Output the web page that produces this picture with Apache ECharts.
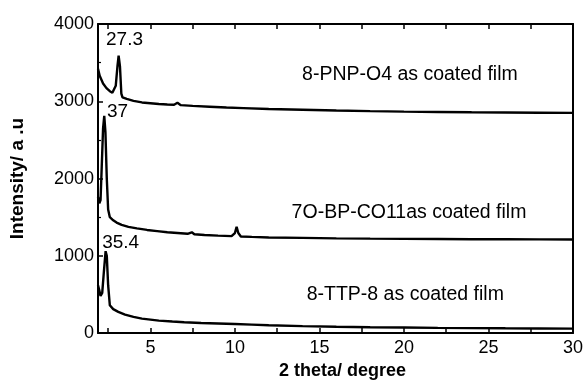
<!DOCTYPE html>
<html>
<head>
<meta charset="utf-8">
<script src="https://cdn.jsdelivr.net/npm/echarts@6/dist/echarts.min.js"></script>
<style>
  html, body { margin: 0; padding: 0; background: #fff; }
  #chart { width: 586px; height: 385px; }
</style>
</head>
<body>
<div id="chart"></div>
<script>
// 2 theta (degree), intensity (a.u.)
const pnpO4 = [
  [1.9, 3420], [2.0, 3330], [2.2, 3230], [2.4, 3170], [2.6, 3130], [2.75, 3110],
  [2.85, 3130], [2.95, 3200], [3.05, 3450], [3.12, 3590], [3.2, 3450], [3.28, 3100],
  [3.35, 3050], [3.6, 3030], [4.0, 3005], [4.5, 2985], [5.0, 2975], [5.5, 2965],
  [6.0, 2958], [6.4, 2955], [6.6, 2980], [6.8, 2950], [7.5, 2940], [8.5, 2930],
  [9.5, 2920], [10.5, 2912], [12, 2900], [14, 2890], [16, 2880], [18, 2872],
  [20, 2866], [22, 2862], [24, 2858], [26, 2855], [28, 2852], [30, 2850]
];
const bpCO11 = [
  [1.9, 1760], [1.98, 1680], [2.05, 1720], [2.12, 2150], [2.2, 2650], [2.27, 2810],
  [2.34, 2600], [2.42, 2000], [2.5, 1600], [2.6, 1500], [2.8, 1460], [3.0, 1430],
  [3.3, 1400], [3.7, 1375], [4.2, 1355], [4.8, 1335], [5.4, 1320], [6.0, 1305],
  [6.6, 1295], [7.2, 1285], [7.45, 1305], [7.6, 1280], [8.2, 1270], [9.0, 1262],
  [9.8, 1255], [10.0, 1295], [10.1, 1375], [10.2, 1295], [10.35, 1250], [11, 1245],
  [12, 1238], [14, 1232], [16, 1226], [18, 1222], [20, 1219], [22, 1217],
  [24, 1215], [26, 1214], [28, 1213], [30, 1212]
];
const ttp8 = [
  [1.9, 620], [1.97, 560], [2.05, 480], [2.15, 520], [2.25, 800], [2.35, 1060],
  [2.42, 1000], [2.5, 620], [2.6, 360], [2.8, 310], [3.1, 275], [3.5, 240],
  [4.0, 210], [4.5, 188], [5.0, 175], [5.5, 162], [6.3, 150], [7.0, 140],
  [8.0, 130], [9.0, 124], [10, 118], [11, 110], [12, 102], [14, 90],
  [16, 82], [18, 76], [20, 72], [22, 68], [24, 65], [26, 62], [28, 60], [30, 58]
];

const xLabels = [5, 10, 15, 20, 25, 30];
const xTicks = [2.5, 5, 7.5, 10, 12.5, 15, 17.5, 20, 22.5, 25, 27.5, 30];

// [x, y, text]
const peakNotes = [[3.47, 3800, "27.3"], [3.06, 2870, "37"], [3.24, 1175, "35.4"]];
const filmNotes = [
  [20.35, 3345, "8-PNP-O4 as coated film"],
  [20.3, 1560, "7O-BP-CO11as coated film"],
  [20.08, 495, "8-TTP-8 as coated film"]
];

const font = "Liberation Sans, Arial, sans-serif";
const chart = echarts.init(document.getElementById("chart"), null, { renderer: "canvas" });

const lineSeries = (data) => ({
  type: "line",
  data: data,
  symbol: "none",
  smooth: false,
  silent: true,
  lineStyle: { color: "#000", width: 2.4 }
});

const textSeries = (notes, size) => ({
  type: "scatter",
  data: notes.map((n) => ({ value: [n[0], n[1]], name: n[2] })),
  symbolSize: 0,
  silent: true,
  itemStyle: { opacity: 1, color: "#000" },
  label: {
    show: true,
    position: "inside",
    formatter: (p) => p.name,
    color: "#000",
    opacity: 1,
    textBorderWidth: 0,
    fontFamily: font,
    fontSize: size
  }
});

chart.setOption({
  backgroundColor: "#fff",
  animation: false,
  grid: { left: 90, right: 13, top: 24, bottom: 38 },
  xAxis: [
    {
      type: "value",
      min: 1.9,
      max: 30,
      name: "2 theta/ degree",
      nameLocation: "middle",
      nameGap: 20,
      nameTextStyle: { color: "#000", fontFamily: font, fontWeight: "bold", fontSize: 18, padding: [0, 0, 0, 14] },
      axisLine: { onZero: false, lineStyle: { color: "#000", width: 2 } },
      axisTick: { inside: true, length: 5, customValues: xTicks, lineStyle: { color: "#000", width: 1.5 } },
      axisLabel: { customValues: xLabels, margin: 6, color: "#000", fontFamily: font, fontSize: 18 },
      splitLine: { show: false }
    },
    {
      type: "value",
      position: "top",
      min: 1.9,
      max: 30,
      axisLine: { onZero: false, lineStyle: { color: "#000", width: 2 } },
      axisTick: { inside: true, length: 5, customValues: xTicks, lineStyle: { color: "#000", width: 1.5 } },
      axisLabel: { show: false },
      splitLine: { show: false }
    }
  ],
  yAxis: [
    {
      type: "value",
      min: 0,
      max: 4000,
      interval: 1000,
      name: "Intensity/ a .u",
      nameLocation: "middle",
      nameGap: 71,
      nameTextStyle: { color: "#000", fontFamily: font, fontWeight: "bold", fontSize: 19 },
      axisLine: { show: true, lineStyle: { color: "#000", width: 2 } },
      axisTick: { show: true, inside: true, length: 5, lineStyle: { color: "#000", width: 1.5 } },
      minorTick: { show: true, splitNumber: 2, length: 3, lineStyle: { color: "#000", width: 1.2 } },
      axisLabel: { margin: 4, color: "#000", fontFamily: font, fontSize: 18, formatter: (v) => String(v) },
      splitLine: { show: false }
    },
    {
      type: "value",
      position: "right",
      min: 0,
      max: 4000,
      axisLine: { show: true, lineStyle: { color: "#000", width: 2 } },
      axisTick: { show: false },
      axisLabel: { show: false },
      splitLine: { show: false }
    }
  ],
  series: [
    lineSeries(pnpO4),
    lineSeries(bpCO11),
    lineSeries(ttp8),
    textSeries(peakNotes, 19),
    textSeries(filmNotes, 19.5)
  ]
});
</script>
</body>
</html>
